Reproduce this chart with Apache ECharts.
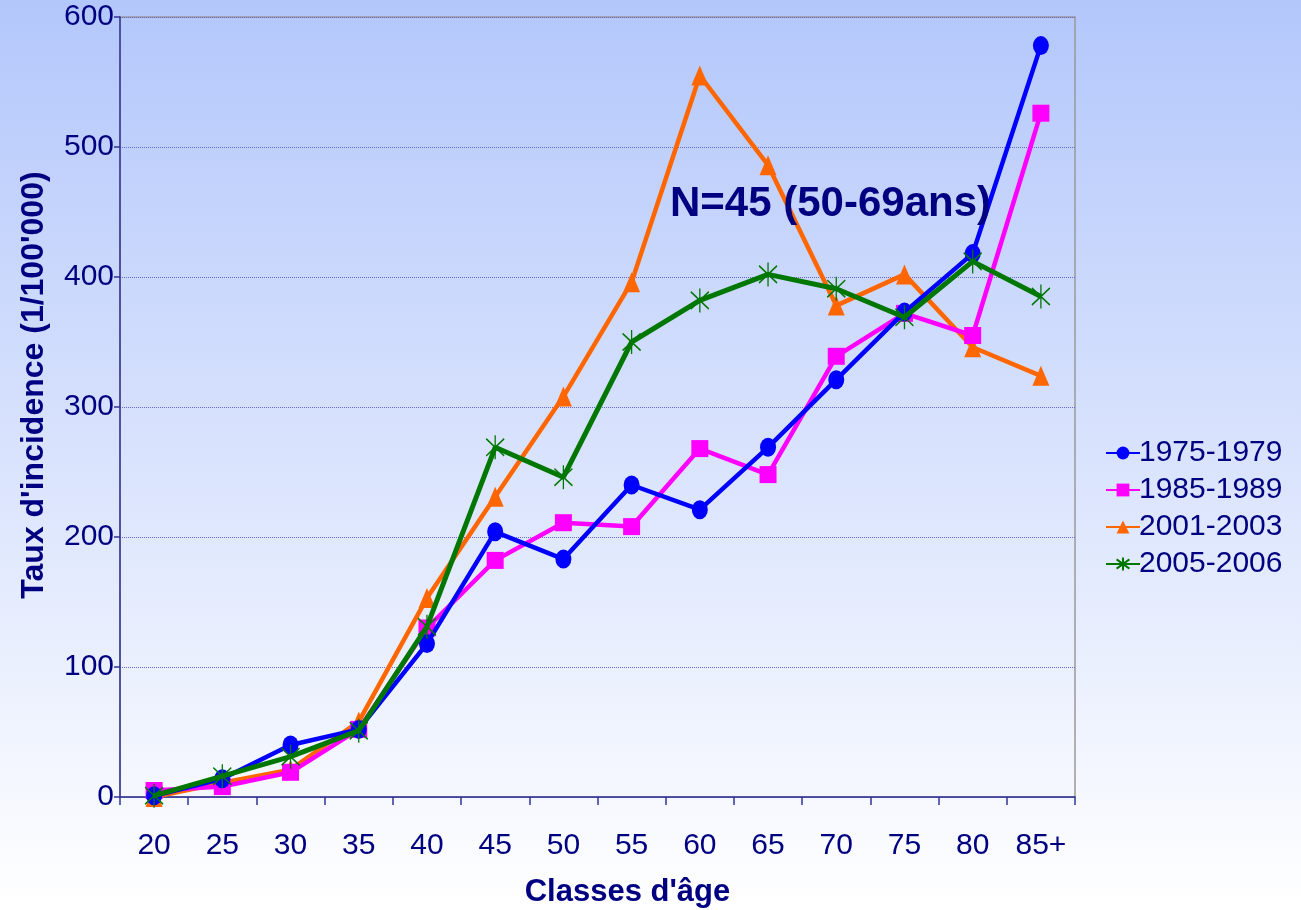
<!DOCTYPE html>
<html>
<head>
<meta charset="utf-8">
<script src="https://cdn.jsdelivr.net/npm/echarts@6/dist/echarts.min.js"></script>
<style>html,body{margin:0;padding:0;}#c{width:1301px;height:910px;}</style>
</head>
<body>
<div id="c"></div>
<script>
const categories = ['20','25','30','35','40','45','50','55','60','65','70','75','80','85+'];
const s1975 = [1, 14, 40, 52, 118, 204, 183, 240, 221, 269, 321, 373, 418, 578];
const s1985 = [5, 8, 19, 52, 130, 182, 211, 208, 268, 248, 339, 372, 355, 526];
const s2001 = [0, 11, 21, 58, 153, 231, 308, 396, 555, 486, 378, 402, 346, 324];
const s2005 = [1, 16, 31, 51, 131, 269, 246, 350, 382, 402, 391, 369, 412, 385];
const yTicks = [0, 100, 200, 300, 400, 500, 600];

const navy = '#000080';
const font = 'Liberation Sans, Arial, sans-serif';
const asterisk = 'path://M0 2 L10 12 M10 2 L0 12 M5 0 L5 14';

const chart = echarts.init(document.getElementById('c'));
chart.setOption({
  backgroundColor: new echarts.graphic.LinearGradient(0, 0, 0, 1, [
    {offset: 0, color: '#b3c7fb'},
    {offset: 1, color: '#ffffff'}
  ]),
  textStyle: {fontFamily: font},
  grid: {left: 120, right: 226, top: 17, bottom: 113, containLabel: false, outerBoundsMode: 'none',
    show: true, borderColor: '#999999', borderWidth: 1.5, backgroundColor: 'transparent'},
  legend: {
    orient: 'vertical', left: 1100, top: 433, itemWidth: 34, itemHeight: 16, itemGap: 7,
    textStyle: {fontSize: 30, color: navy, fontFamily: font, padding: [0,0,0,-6]},
    data: ['1975-1979','1985-1989','2001-2003','2005-2006']
  },
  xAxis: {
    type: 'category', data: categories, boundaryGap: true,
    name: "Classes d'âge", nameLocation: 'middle', nameGap: 80,
    nameTextStyle: {fontSize: 31, fontWeight: 'bold', color: navy, fontFamily: font, padding: [0,0,0,60]},
    axisLine: {lineStyle: {color: '#333399', width: 1.5}},
    axisTick: {show: true, alignWithLabel: false, length: 8, lineStyle: {color: '#333399', width: 1.5}},
    axisLabel: {fontSize: 30, color: navy, margin: 34, fontFamily: font},
    splitLine: {show: false}
  },
  yAxis: {
    type: 'value', min: 0, max: 600, interval: 100,
    name: "Taux d'incidence (1/100'000)", nameLocation: 'middle', nameGap: 70, nameRotate: 90,
    nameTextStyle: {fontSize: 32, fontWeight: 'bold', color: navy, fontFamily: font, padding: [0,0,0,44]},
    axisLine: {show: true, lineStyle: {color: '#333399', width: 1.5}},
    axisTick: {show: true, length: 6, lineStyle: {color: '#333399', width: 1.5}},
    axisLabel: {fontSize: 30, color: navy, margin: 6, fontFamily: font,
      formatter: v => yTicks.includes(v) ? String(v) : ''},
    splitLine: {show: true, lineStyle: {color: '#6666cc', width: 1, type: 'dotted'}}
  },
  series: [
    {name: '1975-1979', type: 'line', data: s1975, symbol: 'circle', symbolSize: [16, 19],
      lineStyle: {color: '#0000ff', width: 4.5}, itemStyle: {color: '#0000ff'}, z: 4},
    {name: '1985-1989', type: 'line', data: s1985, symbol: 'rect', symbolSize: 17,
      lineStyle: {color: '#ff00ff', width: 4.5}, itemStyle: {color: '#ff00ff'}, z: 3},
    {name: '2001-2003', type: 'line', data: s2001, symbol: 'triangle', symbolSize: [17, 20],
      lineStyle: {color: '#ff6600', width: 4.5}, itemStyle: {color: '#ff6600'}, z: 2},
    {name: '2005-2006', type: 'line', data: s2005, symbol: asterisk, symbolSize: [18, 24],
      lineStyle: {color: '#007700', width: 5}, itemStyle: {color: 'transparent', borderColor: '#007700', borderWidth: 1.5}, z: 5}
  ],
  graphic: [
    {type: 'text', left: 670, top: 183, z: 10,
      style: {text: 'N=45 (50-69ans)', fontSize: 42, fontWeight: 'bold', fill: navy, fontFamily: font}}
  ],
  animation: false
});
</script>
</body>
</html>
